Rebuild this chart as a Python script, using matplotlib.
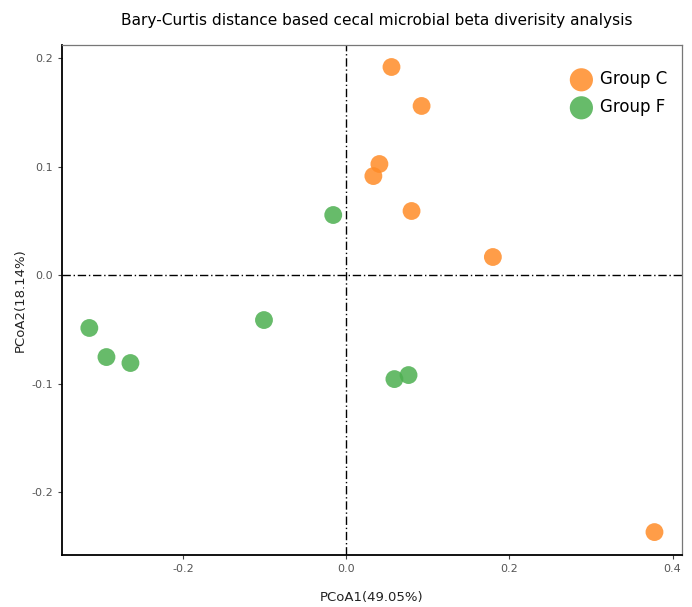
import matplotlib
matplotlib.use("Agg")
import matplotlib.pyplot as plt

plt.rcParams["axes.unicode_minus"] = False

groups = ["Group C", "Group F"]
c_x = [0.0554, 0.0923, 0.0406, 0.0332, 0.0800, 0.1797, 0.3778]
c_y = [0.1917, 0.1558, 0.1023, 0.0912, 0.0590, 0.0166, -0.2369]
f_x = [-0.0160, -0.1009, -0.3150, -0.2940, -0.2646, 0.0590, 0.0763]
f_y = [0.0553, -0.0415, -0.0488, -0.0756, -0.0811, -0.0959, -0.0922]
xticks = [-0.2, 0.0, 0.2, 0.4]
yticks = [-0.2, -0.1, 0.0, 0.1, 0.2]

fig = plt.figure(figsize=(6.92, 6.07), dpi=100)
ax = fig.add_axes([0.0896, 0.0857, 0.8959, 0.8402])

ax.axhline(0, color="black", lw=1.0, ls=(0, (6, 2, 1, 2)), zorder=1)
ax.axvline(0, color="black", lw=1.0, ls=(0, (6, 2, 1, 2)), zorder=1)

ax.scatter(c_x, c_y, s=165, color="#FF8C28", alpha=0.85, edgecolors="none", label=groups[0], zorder=3)
ax.scatter(f_x, f_y, s=165, color="#4CAF50", alpha=0.85, edgecolors="none", label=groups[1], zorder=3)

ax.set_xlim(-0.3485, 0.4115)
ax.set_ylim(-0.258, 0.212)
ax.set_xticks(xticks)
ax.set_xticklabels([f"{v:.1f}" for v in xticks])
ax.set_yticks(yticks)
ax.set_yticklabels([f"{v:.1f}" for v in yticks])
ax.tick_params(labelsize=8, colors="#444444", length=3, width=0.8)
ax.tick_params(axis="both", labelcolor="#555555")

for s in ["left", "bottom"]:
    ax.spines[s].set_color("black")
    ax.spines[s].set_linewidth(1.3)
for s in ["top", "right"]:
    ax.spines[s].set_color("#777777")
    ax.spines[s].set_linewidth(0.9)

ax.set_xlabel("PCoA1(49.05%)", fontsize=9.5, color="#222222", labelpad=12)
ax.set_ylabel("PCoA2(18.14%)", fontsize=9.5, color="#222222", labelpad=3)
fig.text(0.545, 0.967, "Bary-Curtis distance based cecal microbial beta diverisity analysis",
         fontsize=11.1, ha="center", va="center")

leg = ax.legend(loc="upper right", bbox_to_anchor=(1.0, 0.98), frameon=False,
                fontsize=12, handletextpad=0.1, markerscale=1.3, labelspacing=0.6)

fig.savefig("out.png", dpi=100)
